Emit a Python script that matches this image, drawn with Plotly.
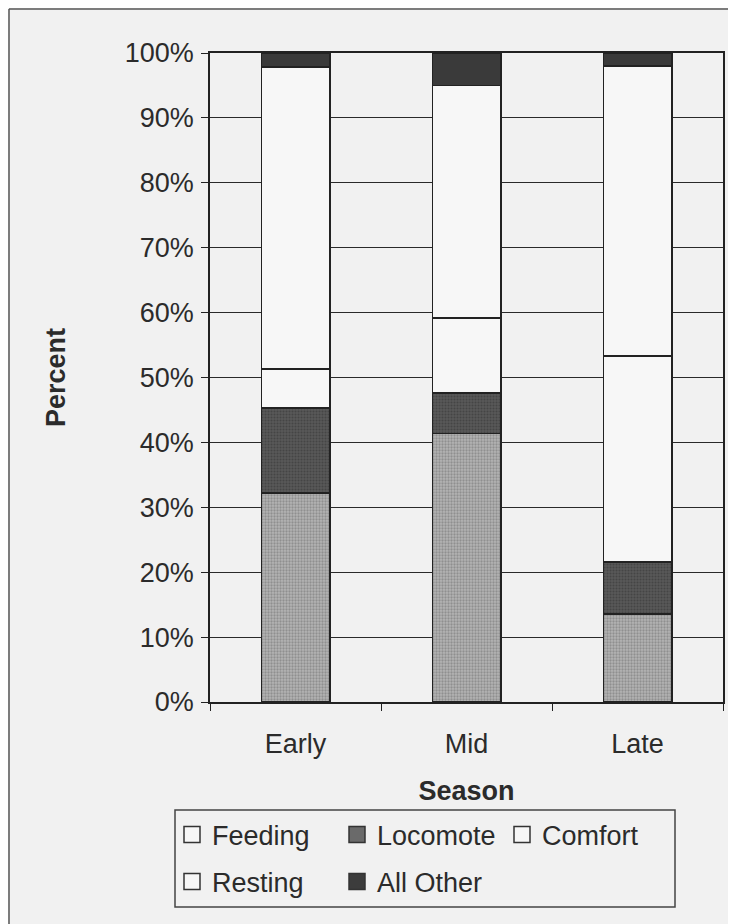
import plotly.graph_objects as go

seasons = ["Early", "Mid", "Late"]
feeding = [32.2, 41.4, 13.6]
locomote = [13.1, 6.2, 8.0]
comfort = [6.0, 11.6, 31.7]
resting = [46.5, 35.8, 44.7]
all_other = [2.2, 5.0, 2.0]

y_ticks = [0, 10, 20, 30, 40, 50, 60, 70, 80, 90, 100]
y_tick_labels = [f"{v}%" for v in y_ticks]

FONT = "Liberation Sans, Arial, sans-serif"
TXT = "#2b2b2b"
BG = "#f1f1f1"

# page body has an 8px margin; build figure in reference pixels shifted by OFF
OFF = 8
W, H = 736 - OFF, 924 - OFF
PL, PR, PT, PB = 210, 723, 53, 702  # plot area in reference pixels
L = PL - OFF
T = PT - OFF
pw = PR - PL
ph = PB - PT
R = W - L - pw
B = H - T - ph

def xp(px):
    return (px - PL) / pw

def yp(py):
    return (PB - py) / ph

fig = go.Figure()

series = [
    ("Feeding", feeding, dict(color="#a3a3a3", pattern=dict(shape=".", size=3, solidity=0.45, fgcolor="#6a6a6a", bgcolor="#b4b4b4"))),
    ("Locomote", locomote, dict(color="#4a4a4a", pattern=dict(shape=".", size=3, solidity=0.35, fgcolor="#333333", bgcolor="#575757"))),
    ("Comfort", comfort, dict(color="#f7f7f7")),
    ("Resting", resting, dict(color="#f7f7f7")),
    ("All Other", all_other, dict(color="#3a3a3a")),
]
for name, vals, mk in series:
    mk = dict(mk)
    mk["line"] = dict(color="#222222", width=1.6)
    fig.add_trace(go.Bar(x=seasons, y=vals, name=name, marker=mk, width=0.4, showlegend=False))

# legend entries (swatches as drawn in the reference legend)
legend_swatches = [
    ("Feeding", "#f7f7f7", "legend"),
    ("Locomote", "#6a6a6a", "legend"),
    ("Comfort", "#f7f7f7", "legend"),
    ("Resting", "#f7f7f7", "legend2"),
    ("All Other", "#3c3c3c", "legend2"),
]
for name, col, lg in legend_swatches:
    fig.add_trace(go.Scatter(
        x=[None], y=[None], mode="markers", name=name, legend=lg,
        marker=dict(symbol="square", size=16, color=col, line=dict(color="#333333", width=1.5)),
    ))

axis_common = dict(
    showline=True, linecolor="#222222", linewidth=1.5, mirror=True,
    ticks="outside", ticklen=7, tickcolor="#222222", tickwidth=1.3,
    tickfont=dict(family=FONT, size=27, color=TXT),
)

leg_common = dict(
    orientation="h", xanchor="left", yanchor="middle", traceorder="normal",
    bgcolor="rgba(0,0,0,0)", borderwidth=0, entrywidth=120, entrywidthmode="pixels",
    font=dict(family=FONT, size=27, color=TXT),
)

fig.update_layout(
    width=W, height=H,
    margin=dict(l=L, r=R, t=T, b=B, autoexpand=False),
    paper_bgcolor=BG, plot_bgcolor=BG,
    barmode="stack",
    font=dict(family=FONT, color=TXT),
    xaxis=dict(
        **axis_common, tickson="boundaries", showgrid=False, ticklabelstandoff=17,
        title=dict(text="<b>Season</b>", font=dict(family=FONT, size=27, color=TXT), standoff=23),
    ),
    yaxis=dict(
        **axis_common, range=[0, 100], tickvals=y_ticks, ticktext=y_tick_labels,
        showgrid=True, gridcolor="#2a2a2a", gridwidth=1.3, zeroline=False, ticklabelstandoff=2,
        title=dict(text="<b>Percent</b>", font=dict(family=FONT, size=27, color=TXT), standoff=51),
    ),
    legend=dict(**leg_common, x=xp(172), y=yp(835)),
    legend2=dict(**leg_common, x=xp(172), y=yp(882)),
    shapes=[
        dict(type="rect", xref="paper", yref="paper", x0=xp(175), x1=xp(675), y0=yp(810), y1=yp(907),
             line=dict(color="#444444", width=1.5), fillcolor="rgba(0,0,0,0)"),
        dict(type="line", xref="paper", yref="paper", x0=xp(9), x1=xp(740), y0=yp(9), y1=yp(9),
             line=dict(color="#555555", width=1.5)),
        dict(type="line", xref="paper", yref="paper", x0=xp(9), x1=xp(9), y0=yp(9), y1=yp(930),
             line=dict(color="#555555", width=1.5)),
    ],
)

fig.write_html("out.html")
